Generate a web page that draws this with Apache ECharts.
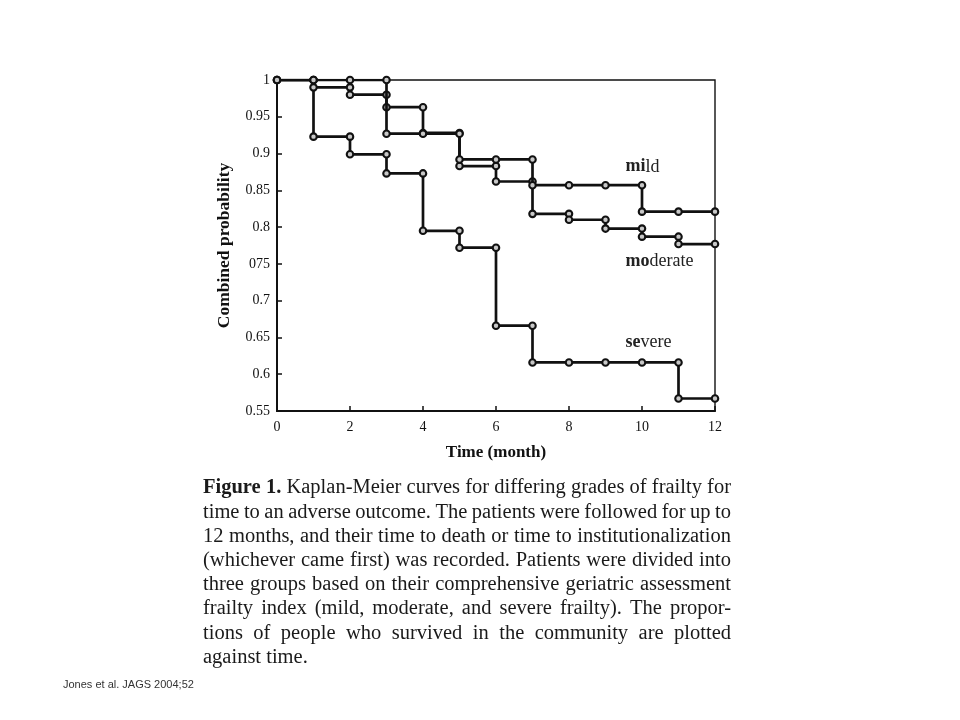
<!DOCTYPE html>
<html><head><meta charset="utf-8">
<script src="https://cdn.jsdelivr.net/npm/echarts@6/dist/echarts.min.js"></script>
<style>html,body{margin:0;padding:0;background:#fff}#c{width:960px;height:720px}</style>
</head><body><div id="c"></div>
<script>
// ---- data ----
const months = [0,1,2,3,4,5,6,7,8,9,10,11,12];
const mild     = [1, 1, 1, 0.927, 0.927, 0.892, 0.892, 0.857, 0.857, 0.857, 0.821, 0.821, 0.821];
const moderate = [1, 0.99, 0.98, 0.963, 0.928, 0.883, 0.862, 0.818, 0.810, 0.798, 0.787, 0.777, 0.777];
const severe   = [1, 0.923, 0.899, 0.873, 0.795, 0.772, 0.666, 0.616, 0.616, 0.616, 0.616, 0.567, 0.567];
const yTickLabels = ['0.55','0.6','0.65','0.7','075','0.8','0.85','0.9','0.95','1'];
const xTickLabels = ['0','2','4','6','8','10','12'];
const seriesNames = ['mild','moderate','severe'];
const seriesBoldPart = ['mi','mo','se'];
const seriesRestPart = ['ld','derate','vere'];
const labelAnchors = [[9.55, 0.882],[9.55, 0.753],[9.55, 0.643]];
const xTitle = 'Time (month)';
const yTitle = 'Combined probability';
const captionLines = [
  'Figure 1.  Kaplan-Meier curves for differing grades of frailty for',
  'time to an adverse outcome. The patients were followed for up to',
  '12 months, and their time to death or time to institutionalization',
  '(whichever came first) was recorded. Patients were divided into',
  'three groups based on their comprehensive geriatric assessment',
  'frailty index (mild, moderate, and severe frailty). The propor-',
  'tions of people who survived in the community are plotted',
  'against time.'
];
const footer = 'Jones et al. JAGS 2004;52';

// ---- build ----
function km(vals){
  const d=[[months[0],vals[0]]];
  for(let i=1;i<months.length;i++){
    d.push([months[i],vals[i-1]]);
    if(vals[i]!==vals[i-1]) d.push([months[i],vals[i]]);
  }
  return d;
}
const serif = 'Liberation Serif';
const chart = echarts.init(document.getElementById('c'), null, {renderer:'canvas'});
const lineStyle = {color:'#111', width:2.7};
const itemStyle = {color:'#c8c8c8', borderColor:'#111', borderWidth:2.1};
const series = [mild, moderate, severe].map((v,i)=>({
  name: seriesNames[i], type:'line', data: km(v), symbol:'circle', symbolSize:6.5,
  showAllSymbol:true, lineStyle, itemStyle, animation:false, z: 3-i
}));
chart.setOption({
  animation:false,
  backgroundColor:'#fff',
  grid:{left:277, right:245, top:80, bottom:309, show:true, borderColor:'#111', borderWidth:1.4},
  xAxis:{type:'value', min:0, max:12, interval:2,
    name:xTitle, nameLocation:'middle', nameGap:33,
    nameTextStyle:{fontFamily:serif, fontWeight:'bold', fontSize:17, color:'#111'},
    axisLine:{lineStyle:{color:'#111', width:2}},
    axisTick:{inside:true, length:5, lineStyle:{color:'#111', width:1.5}},
    axisLabel:{fontFamily:serif, fontSize:14, color:'#111', margin:9,
      formatter:(v)=>xTickLabels[Math.round(v/2)]},
    splitLine:{show:false}},
  yAxis:{type:'value', min:0.55, max:1, interval:0.05,
    name:yTitle, nameLocation:'middle', nameGap:44,
    nameTextStyle:{fontFamily:serif, fontWeight:'bold', fontSize:17.5, color:'#111'},
    axisLine:{show:true, lineStyle:{color:'#111', width:2}},
    axisTick:{show:true, inside:true, length:5, lineStyle:{color:'#111', width:1.5}},
    axisLabel:{fontFamily:serif, fontSize:14, color:'#111', margin:7,
      formatter:(v)=>yTickLabels[Math.round((v-0.55)/0.05)]},
    splitLine:{show:false}},
  series
});

// ---- series labels ----
const graphics = [];
labelAnchors.forEach((a,i)=>{
  const p = chart.convertToPixel({gridIndex:0}, a);
  graphics.push({type:'text', x:p[0], y:p[1], style:{
    text:'{b|'+seriesBoldPart[i]+'}{n|'+seriesRestPart[i]+'}',
    rich:{b:{fontFamily:serif, fontWeight:'bold', fontSize:18, fill:'#222'},
          n:{fontFamily:serif, fontSize:18, fill:'#222'}},
    verticalAlign:'middle', align:'left'}});
});

// ---- caption (justified) ----
const capLeft = 203, capRight = 731, capTop = 488, capStep = 24.2, capSize = 20.5;
const cv = document.createElement('canvas').getContext('2d');
function fontOf(bold){ return (bold?'bold ':'') + capSize + 'px "' + serif + '"'; }
captionLines.forEach((line, li)=>{
  const words = line.split(/\s+/);
  const info = words.map((w,wi)=>{
    const bold = li===0 && wi<2;
    cv.font = fontOf(bold);
    return {w, bold, width: cv.measureText(w).width};
  });
  const total = info.reduce((s,o)=>s+o.width,0);
  const last = li===captionLines.length-1;
  cv.font = fontOf(false);
  const space = cv.measureText(' ').width;
  const gap = last ? space : (capRight-capLeft-total)/(words.length-1);
  let x = capLeft;
  const y = capTop + li*capStep;
  info.forEach(o=>{
    graphics.push({type:'text', x, y, style:{text:o.w, fontFamily:serif, fontSize:capSize,
      fontWeight:o.bold?'bold':'normal', fill:'#1a1a1a', verticalAlign:'middle', align:'left'}});
    x += o.width + gap;
  });
});
graphics.push({type:'text', x:63, y:685, style:{text:footer, fontFamily:'Liberation Sans',
  fontSize:11, fill:'#333', verticalAlign:'middle', align:'left'}});
chart.setOption({graphic: graphics});
</script>
</body></html>
